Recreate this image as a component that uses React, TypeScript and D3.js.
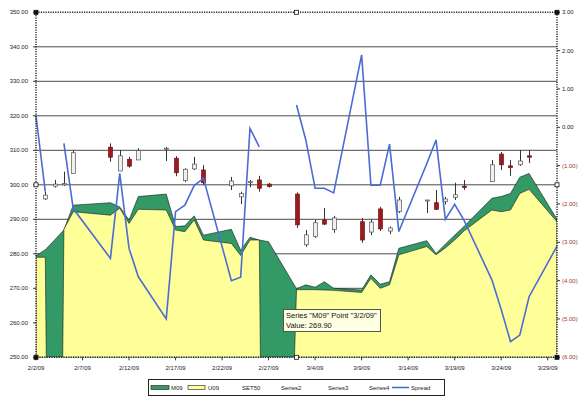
import React, { useRef, useEffect } from "react";
import * as d3 from "d3";

// trading days (2/9 was a holiday, weekends skipped)
const dates = [
  "2/2/09", "2/3/09", "2/4/09", "2/5/09", "2/6/09", "2/10/09", "2/11/09", "2/12/09", "2/13/09",
  "2/16/09", "2/17/09", "2/18/09", "2/19/09", "2/20/09", "2/23/09", "2/24/09", "2/25/09", "2/26/09", "2/27/09",
  "3/2/09", "3/3/09", "3/4/09", "3/5/09", "3/6/09", "3/9/09", "3/10/09", "3/11/09", "3/12/09", "3/13/09",
  "3/16/09", "3/17/09", "3/18/09", "3/19/09", "3/20/09", "3/23/09", "3/24/09", "3/25/09", "3/26/09", "3/27/09", "3/30/09",
];

const m09 = [
  279.4, 281.2, 284.0, 286.9, 294.1, 294.8, 293.6, 289.8, 296.6,
  297.3, 287.9, 288.1, 291.0, 285.4, 287.1, 281.0, 284.8, 284.0, 283.5,
  269.9, 271.0, 270.3, 271.9, 270.0, 269.5, 273.9, 271.2, 271.9, 281.6,
  283.8, 280.1, 282.8, 285.4, 287.9, 296.1, 296.6, 297.5, 302.2, 303.3, 290.0,
];

// blanks are plotted as zero by the area chart
const u09 = [
  279.0, 279.0, null, 287.1, 292.2, 291.2, 293.2, 288.8, 292.9,
  292.7, 286.9, 286.4, 289.8, 284.0, 283.0, 279.5, 284.0, 284.0, null,
  269.6, 269.6, 269.6, 269.5, 269.4, 268.8, 272.9, 270.0, 271.0, 279.7,
  282.1, 279.7, 281.7, 284.0, 286.6, 292.7, 292.2, 292.7, 297.5, 298.7, 289.3,
];

const spread = [
  0.29, -1.68, null, -0.42, -2.12, -3.42, -1.2, -3.16, -3.9,
  -5.0, -2.2, -2.03, -1.52, -1.33, -4.0, -3.91, -0.03, -0.51, null,
  0.58, -0.33, -1.59, -1.59, -1.71, 1.89, -1.51, -1.51, -0.44, -2.72,
  -0.95, -0.33, -2.4, -2.01, -2.42, -3.98, -4.75, -5.59, -5.42, -4.42, -3.1,
];

// SET50 OHLC
const set50Open = [
  null, 295.9, 299.6, 300.0, 303.3, 310.9, 304.0, 307.4, 307.2,
  310.4, 307.7, 301.2, 304.6, 304.3, 299.7, 296.5, 300.9, 301.4, 300.2,
  297.3, 282.6, 285.0, 289.8, 287.0, 289.3, 286.3, 293.0, 286.6, 292.2,
  295.3, 294.8, 295.1, 296.3, 299.6, 300.9, 308.9, 305.5, 305.8, 308.4, null,
];
const set50High = [
  null, 298.0, 301.4, 303.8, 309.9, 312.0, 310.1, 308.1, 310.6,
  311.0, 308.3, 304.8, 308.1, 305.7, 302.3, 298.0, 301.4, 302.6, 300.5,
  297.8, 286.9, 289.8, 293.3, 291.0, 290.4, 290.1, 293.6, 287.9, 296.5,
  295.6, 298.5, 296.5, 300.6, 301.4, 307.2, 309.5, 307.2, 310.1, 310.1, null,
];
const set50Low = [
  null, 295.6, 299.2, 299.7, 303.3, 306.7, 304.0, 305.0, 307.2,
  306.9, 302.5, 300.8, 304.3, 299.9, 298.5, 294.4, 299.3, 298.0, 299.2,
  287.5, 282.0, 284.6, 288.3, 286.1, 283.2, 285.4, 286.6, 285.7, 291.8,
  291.8, 292.7, 294.3, 295.6, 298.5, 300.9, 304.3, 302.6, 305.5, 306.3, null,
];
const set50Close = [
  null, 297.0, 300.2, 300.4, 309.3, 308.0, 308.4, 305.4, 309.9,
  310.6, 303.5, 304.5, 306.0, 300.6, 301.1, 297.5, 301.0, 299.0, 299.5,
  288.4, 285.5, 289.0, 288.6, 290.4, 284.0, 289.2, 287.2, 287.5, 295.6,
  295.6, 292.9, 295.9, 297.1, 299.2, 305.8, 305.8, 305.0, 306.9, 308.0, null,
];

const xTickLabels = [
  "2/2/09", "2/7/09", "2/12/09", "2/17/09", "2/22/09", "2/27/09",
  "3/4/09", "3/9/09", "3/14/09", "3/19/09", "3/24/09", "3/29/09",
];
const leftTicks = [250, 260, 270, 280, 290, 300, 310, 320, 330, 340, 350];
const rightTicks = [3, 2, 1, 0, -1, -2, -3, -4, -5, -6];
const legendLabels = ["M09", "U09", "SET50", "Series2", "Series3", "Series4", "Spread"];

const WIDTH = 585;
const HEIGHT = 398;
const FONT = "'Liberation Sans', Arial, sans-serif";

const App: React.FC = () => {
  const svgRef = useRef<SVGSVGElement>(null);

  useEffect(() => {
    if (!svgRef.current) return;
    const svg = d3.select(svgRef.current);
    svg.selectAll("*").remove();

    const left = 36;
    const right = 557;
    const top = 12.3;
    const bottom = 357.3;

    const parse = d3.timeParse("%m/%d/%y");
    const days = dates.map((d) => parse(d) as Date);

    const x = d3
      .scaleTime()
      .domain([parse("2/2/09") as Date, parse("3/30/09") as Date])
      .range([left, right]);
    const yL = d3.scaleLinear().domain([250, 350]).range([bottom, top]);
    const yR = d3.scaleLinear().domain([-6, 3]).range([bottom, top]);

    svg.append("rect").attr("width", WIDTH).attr("height", HEIGHT).attr("fill", "#fff");

    // clip for the areas
    svg
      .append("defs")
      .append("clipPath")
      .attr("id", "plotClip")
      .append("rect")
      .attr("x", left)
      .attr("y", top)
      .attr("width", right - left)
      .attr("height", bottom - top);

    // gridlines
    svg
      .append("g")
      .selectAll("line")
      .data(leftTicks.slice(1, -1))
      .join("line")
      .attr("x1", left)
      .attr("x2", right)
      .attr("y1", (d) => yL(d))
      .attr("y2", (d) => yL(d))
      .attr("stroke", "#4a4a4a")
      .attr("stroke-width", 1);

    // areas (blank values drop to zero)
    const area = d3
      .area<number | null>()
      .x((_, i) => x(days[i]))
      .y0(bottom)
      .y1((d) => yL(d ?? 0));

    const areas = svg.append("g").attr("clip-path", "url(#plotClip)");
    areas
      .append("path")
      .datum(m09)
      .attr("d", area)
      .attr("fill", "#339966")
      .attr("stroke", "#1a1a1a")
      .attr("stroke-width", 0.6);
    areas
      .append("path")
      .datum(u09)
      .attr("d", area)
      .attr("fill", "#ffff99")
      .attr("stroke", "#1a1a1a")
      .attr("stroke-width", 0.6);

    // candlesticks
    const candles = dates
      .map((_, i) => ({
        day: days[i],
        o: set50Open[i],
        h: set50High[i],
        l: set50Low[i],
        c: set50Close[i],
      }))
      .filter((d) => d.o != null);

    const cg = svg.append("g");
    cg.selectAll("line")
      .data(candles)
      .join("line")
      .attr("x1", (d) => Math.round(x(d.day)) + 0.5)
      .attr("x2", (d) => Math.round(x(d.day)) + 0.5)
      .attr("y1", (d) => yL(d.h as number))
      .attr("y2", (d) => yL(d.l as number))
      .attr("stroke", "#333")
      .attr("stroke-width", 1);
    cg.selectAll("rect")
      .data(candles)
      .join("rect")
      .attr("x", (d) => Math.round(x(d.day)) - 1.5)
      .attr("width", 4)
      .attr("y", (d) => yL(Math.max(d.o as number, d.c as number)))
      .attr("height", (d) =>
        Math.max(1, Math.abs(yL(d.o as number) - yL(d.c as number)))
      )
      .attr("fill", (d) => ((d.c as number) >= (d.o as number) ? "#f0f0f0" : "#9b1c1c"))
      .attr("stroke", (d) => ((d.c as number) >= (d.o as number) ? "#555" : "#7a1010"))
      .attr("stroke-width", 0.7);

    // spread line
    const line = d3
      .line<number | null>()
      .defined((d) => d != null)
      .x((_, i) => x(days[i]))
      .y((d) => yR(d as number));
    svg
      .append("path")
      .datum(spread)
      .attr("d", line)
      .attr("fill", "none")
      .attr("stroke", "#4a6cd4")
      .attr("stroke-width", 1.6);

    // left axis
    const la = svg.append("g");
    leftTicks.forEach((t) => {
      la.append("line")
        .attr("x1", left - 3)
        .attr("x2", left)
        .attr("y1", yL(t))
        .attr("y2", yL(t))
        .attr("stroke", "#333");
      la.append("text")
        .attr("x", 28)
        .attr("y", yL(t) + 2)
        .attr("text-anchor", "end")
        .attr("font-family", FONT)
        .attr("font-size", "6px")
        .attr("fill", "#222")
        .text(d3.format(".2f")(t));
    });

    // right axis
    const ra = svg.append("g");
    rightTicks.forEach((t) => {
      ra.append("line")
        .attr("x1", right)
        .attr("x2", right + 3)
        .attr("y1", yR(t))
        .attr("y2", yR(t))
        .attr("stroke", "#333");
      ra.append("text")
        .attr("x", 562)
        .attr("y", yR(t) + 2)
        .attr("font-family", FONT)
        .attr("font-size", "6px")
        .attr("fill", t < 0 ? "#a33333" : "#222")
        .text(t < 0 ? `(${d3.format(".2f")(-t)})` : d3.format(".2f")(t));
    });

    // x axis
    const xa = svg.append("g");
    xTickLabels.forEach((lbl) => {
      const px = x(parse(lbl) as Date);
      xa.append("line")
        .attr("x1", px)
        .attr("x2", px)
        .attr("y1", bottom)
        .attr("y2", bottom + 3)
        .attr("stroke", "#333");
      xa.append("text")
        .attr("x", px)
        .attr("y", 370)
        .attr("text-anchor", "middle")
        .attr("font-family", FONT)
        .attr("font-size", "6px")
        .attr("fill", "#222")
        .text(lbl);
    });

    // plot border (selected, dotted) + handles
    svg
      .append("rect")
      .attr("x", left)
      .attr("y", top)
      .attr("width", right - left)
      .attr("height", bottom - top)
      .attr("fill", "none")
      .attr("stroke", "#222")
      .attr("stroke-width", 1.4)
      .attr("stroke-dasharray", "1.2,1.2");

    const midX = (left + right) / 2;
    const midY = (top + bottom) / 2;
    const handles = [
      [left, top, true], [right, top, true], [left, bottom, true], [right, bottom, true],
      [midX, top, false], [midX, bottom, false], [left, midY, false], [right, midY, false],
    ] as [number, number, boolean][];
    svg
      .append("g")
      .selectAll("rect")
      .data(handles)
      .join("rect")
      .attr("x", (d) => d[0] - 2)
      .attr("y", (d) => d[1] - 2)
      .attr("width", 4)
      .attr("height", 4)
      .attr("fill", (d) => (d[2] ? "#111" : "#fff"))
      .attr("stroke", "#111")
      .attr("stroke-width", 0.8);

    // tooltip
    const tip = svg.append("g");
    tip.append("rect")
      .attr("x", 283.5)
      .attr("y", 309.5)
      .attr("width", 97)
      .attr("height", 22)
      .attr("fill", "#ffffe1")
      .attr("stroke", "#555")
      .attr("stroke-width", 1);
    tip.append("text")
      .attr("x", 286)
      .attr("y", 317.5)
      .attr("font-family", FONT)
      .attr("font-size", "7.5px")
      .attr("fill", "#111")
      .text(`Series "M09" Point "${dates[19]}"`);
    tip.append("text")
      .attr("x", 286)
      .attr("y", 328)
      .attr("font-family", FONT)
      .attr("font-size", "7.5px")
      .attr("fill", "#111")
      .text(`Value: ${d3.format(".2f")(m09[19])}`);

    // legend
    const lg = svg.append("g");
    lg.append("rect")
      .attr("x", 148.5)
      .attr("y", 379.5)
      .attr("width", 296)
      .attr("height", 16)
      .attr("fill", "#fff")
      .attr("stroke", "#222")
      .attr("stroke-width", 1);
    const legendX = [171, 208, 242, 281, 328, 369, 411];
    lg.append("rect").attr("x", 151).attr("y", 385.5).attr("width", 18).attr("height", 4)
      .attr("fill", "#339966").attr("stroke", "#1a1a1a").attr("stroke-width", 0.6);
    lg.append("rect").attr("x", 188).attr("y", 385.5).attr("width", 17).attr("height", 4)
      .attr("fill", "#ffff99").attr("stroke", "#1a1a1a").attr("stroke-width", 0.6);
    lg.append("line").attr("x1", 392).attr("x2", 409).attr("y1", 387.5).attr("y2", 387.5)
      .attr("stroke", "#4a6cd4").attr("stroke-width", 1.6);
    legendLabels.forEach((lbl, i) => {
      lg.append("text")
        .attr("x", legendX[i])
        .attr("y", 390)
        .attr("font-family", FONT)
        .attr("font-size", "6px")
        .attr("fill", "#222")
        .text(lbl);
    });
  }, []);

  return (
    <svg
      ref={svgRef}
      width={WIDTH}
      height={HEIGHT}
      style={{ position: "absolute", left: 0, top: 0, display: "block" }}
    />
  );
};

export default App;
